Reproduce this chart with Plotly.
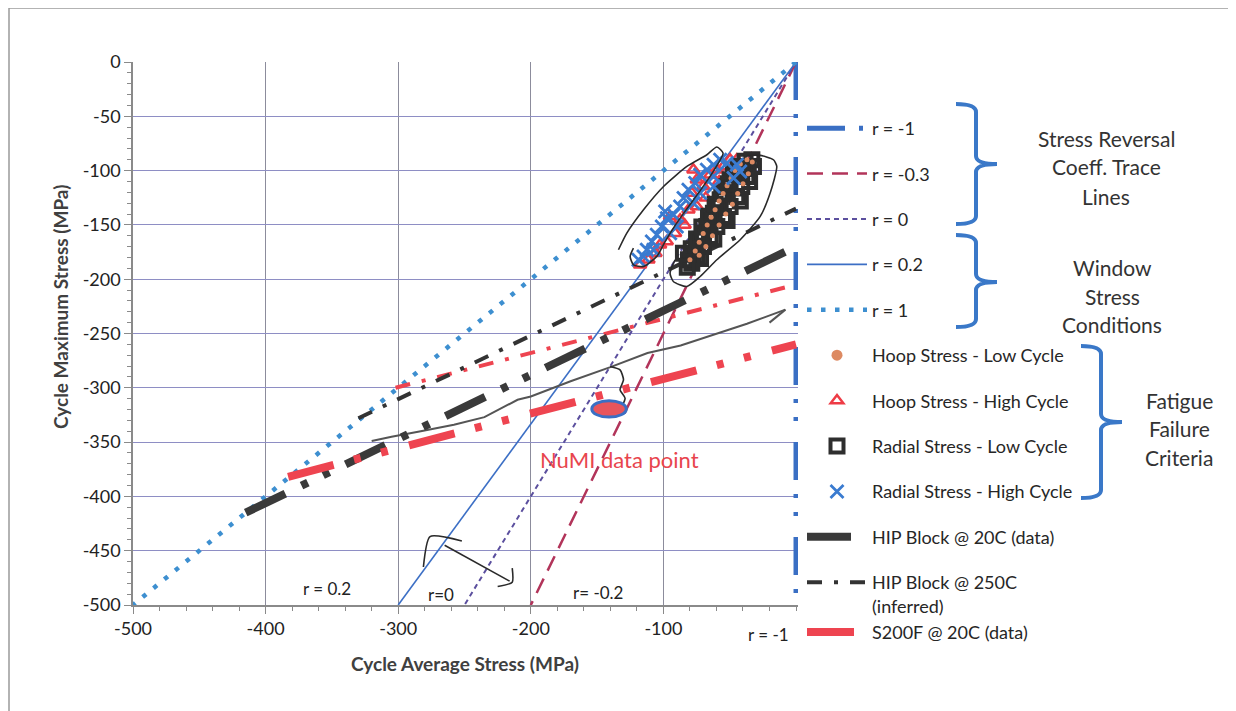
import plotly.graph_objects as go

# ---------------- data ----------------
r_labels = ["r = -1", "r = -0.3", "r = 0", "r = 0.2", "r = 1"]
r_end_avg = [0, -200, -250, -300, -500]      # cycle average stress where each trace line meets -500
r_end_max = [-500, -500, -500, -500, -500]

hoop_low_x = [-80, -76, -73, -70, -67, -64, -61, -58, -55, -52, -49, -46, -42, -37, -33, -36, -40, -44, -48, -53, -58, -63, -68, -73]
hoop_low_y = [-182, -174, -166, -158, -150, -143, -136, -128, -121, -114, -107, -100, -94, -90, -92, -103, -112, -121, -131, -140, -150, -160, -170, -178]

hoop_high_x = [-117.6, -111.3, -102.5, -97.5, -91.2, -95.0, -87.4, -81.1, -74.8, -78.6, -74.8, -69.8, -64.8, -59.7, -54.7, -49.7, -44.7, -77.4, -106, -84, -68, -58]
hoop_high_y = [-186.7, -182.1, -168.3, -165.3, -157.6, -142.2, -145.3, -136.1, -133.0, -120.7, -108.4, -114.6, -103.8, -99.2, -96.2, -90.0, -90.0, -99.2, -176, -150, -125, -110]

radial_low_x = [-81.1, -77.4, -74.8, -72.3, -69.8, -67.3, -64.8, -62.3, -59.7, -57.2, -54.7, -52.2, -49.7, -47.2, -43.4, -38.4, -33.3,
                -32.1, -37.1, -40.9, -44.7, -49.7, -54.7, -59.7, -64.8, -69.8, -74.8, -84.9, -78.6,
                -79, -75, -71, -66, -61, -56, -51, -46, -41, -36, -35, -42, -52, -62, -72, -82]
radial_low_y = [-182.1, -176.0, -169.9, -163.7, -157.6, -151.4, -145.3, -139.2, -133.0, -126.9, -120.7, -114.6, -108.4, -102.3, -96.2, -91.5, -90.0,
                -96.2, -105.4, -114.6, -123.8, -133.0, -142.2, -151.4, -160.6, -169.9, -179.1, -176.0, -185.2,
                -172, -163, -152, -142, -131, -121, -112, -104, -99, -97, -110, -128, -146, -163, -181, -189]

radial_high_x = [-118.8, -115.0, -112.5, -108.7, -105.0, -101.2, -97.4, -98.7, -92.4, -87.4, -84.8, -81.1, -76.0, -72.3, -67.2, -62.2, -57.2, -52.1, -44.6, -42.1, -47.1, -62.2, -77.3, -72.3, -62.2, -89.9, -94.9, -107.5]
radial_high_y = [-182.1, -179.1, -172.9, -165.3, -159.1, -151.4, -143.8, -137.6, -140.7, -133.0, -125.3, -117.7, -111.5, -103.8, -99.2, -94.6, -90.0, -93.1, -94.6, -100.8, -106.9, -114.6, -130.0, -120.7, -105.4, -151.4, -157.6, -172.9]

hip20_x = [-415, 0]
hip20_y = [-415, -170]
hip250_x = [-330, 0]
hip250_y = [-328, -135]
s200f20_x = [-383, 0]
s200f20_y = [-382, -260]
s200f250_x = [-302, 0]
s200f250_y = [-300, -205]

# hand-drawn marks on the scanned chart
gray_x = [-320, -305, -283, -258, -235, -210, -200, -170, -140, -112, -87, -62, -37, -8, None, -8, -20]
gray_y = [-349, -345, -340, -334, -327, -311, -308, -294, -281, -268, -261, -251, -241, -228, None, -228, -240]
loop1_x = [-133.9, -127.6, -115.0, -99.9, -82.3, -67.2, -59.7, -55, -62, -72, -84, -92, -99, -105, -115, -122.6, -125.1, -122.6]
loop1_y = [-172.9, -157.6, -136.1, -114.6, -96.2, -85.4, -78.3, -84, -100, -118, -138, -152, -166, -179, -188.3, -186.7, -179.1, -171.4]
loop2_x = [-37, -27, -17, -14.5, -19.5, -27, -42.1, -59.7, -72.3, -82.4, -92.5, -95, -91.2]
loop2_y = [-86, -86, -90, -96.2, -120.7, -142.2, -163.7, -182.1, -197.5, -206.7, -202.1, -194.4, -182.1]
arrow_x = [-281, -276, -252, None, -265, -216, None, -214, -214, -225]
arrow_y = [-465, -437, -441, None, -445, -478, None, -466, -479, -483]
squiggle_x = [-140.2, -132.7, -130.1, -132.7, -128.9, -131.4]
squiggle_y = [-280.4, -283.5, -292.7, -301.9, -309.6, -317.3]

x_ticks = [-500, -400, -300, -200, -100]
y_ticks = [0, -50, -100, -150, -200, -250, -300, -350, -400, -450, -500]

# ---------------- figure ----------------
FONT = "Lato"
# page pixel positions of the plot area (page has an 8px body margin)
L_PX, R_PX, T_PX, B_PX = 133.0, 798.0, 62.0, 605.0


def pp(px, py):
    return ((px - L_PX) / (R_PX - L_PX), (B_PX - py) / (B_PX - T_PX))


fig = go.Figure()

r_styles = [
    dict(color="#3a6fc4", width=5, dash="38px,14px,4px,14px,4px,21px"),
    dict(color="#b2345a", width=2.5, dash="16px,9px"),
    dict(color="#5b4f9e", width=2, dash="5px,4px"),
    dict(color="#3c6fc5", width=1.6, dash="solid"),
    dict(color="#3d8fd0", width=4.5, dash="4.5px,9.5px"),
]
for i, lab in enumerate(r_labels):
    fig.add_trace(go.Scatter(
        x=[0, r_end_avg[i]], y=[0, r_end_max[i]], mode="lines", name=lab,
        line=r_styles[i], legendgroup=f"g{i}", legendrank=i + 1,
    ))

fig.add_trace(go.Scatter(x=s200f250_x, y=s200f250_y, mode="lines", showlegend=False,
                         line=dict(color="#ee4450", width=4, dash="15px,12px,4px,12px"), hoverinfo="skip"))
fig.add_trace(go.Scatter(x=hip250_x, y=hip250_y, mode="lines", name="HIP Block @ 250C<br>(inferred)",
                         line=dict(color="#333333", width=4, dash="15px,12px,4px,12px"),
                         legendgroup="g10", legendrank=11))
fig.add_trace(go.Scatter(x=gray_x, y=gray_y, mode="lines", showlegend=False,
                         line=dict(color="#555555", width=2), hoverinfo="skip"))
fig.add_trace(go.Scatter(x=hip20_x, y=hip20_y, mode="lines", name="HIP Block @ 20C (data)",
                         line=dict(color="#3a3a3a", width=8, dash="44px,18px,7px,17px,7px,18px"),
                         legendgroup="g9", legendrank=10))
fig.add_trace(go.Scatter(x=s200f20_x, y=s200f20_y, mode="lines", name="S200F @ 20C (data)",
                         line=dict(color="#ee4450", width=8, dash="47px,21px,7px,21px,7px,22px"),
                         legendgroup="g10", legendrank=12))

# legend entry for the hoop low-cycle points (the visible points are drawn later, on top of the squares)
fig.add_trace(go.Scatter(x=[None], y=[None], mode="markers", name="Hoop Stress - Low Cycle",
                         marker=dict(symbol="circle", size=11, color="#dd8a62"),
                         legendgroup="g5", legendrank=6))
fig.add_trace(go.Scatter(x=hoop_high_x, y=hoop_high_y, mode="markers", name="Hoop Stress - High Cycle",
                         marker=dict(symbol="triangle-up-open", size=11, color="#ee3b45", line=dict(width=2.5)),
                         legendgroup="g6", legendrank=7))
fig.add_trace(go.Scatter(x=radial_low_x, y=radial_low_y, mode="markers", name="Radial Stress - Low Cycle",
                         marker=dict(symbol="square-open", size=13, color="#2e2e2e", line=dict(width=4)),
                         legendgroup="g7", legendrank=8))
fig.add_trace(go.Scatter(x=hoop_low_x, y=hoop_low_y, mode="markers", showlegend=False,
                         marker=dict(symbol="circle", size=5, color="#dd8a62"),
                         legendgroup="g5", hoverinfo="x+y"))
fig.add_trace(go.Scatter(x=radial_high_x, y=radial_high_y, mode="markers", name="Radial Stress - High Cycle",
                         marker=dict(symbol="x-thin", size=13, color="#3a7bd0",
                                     line=dict(width=2.8, color="#3a7bd0")),
                         legendgroup="g8", legendrank=9))

for hx, hy in [(loop1_x, loop1_y), (loop2_x, loop2_y), (arrow_x, arrow_y), (squiggle_x, squiggle_y)]:
    fig.add_trace(go.Scatter(x=hx, y=hy, mode="lines", showlegend=False, hoverinfo="skip",
                             line=dict(color="#2a2a2a", width=1.6, shape="spline", smoothing=0.6)))

shapes = []
# NuMI data point ellipse
shapes.append(dict(type="circle", xref="x", yref="y", x0=-154, x1=-128, y0=-327, y1=-312,
                   fillcolor="#e8555c", line=dict(color="#3a6fc4", width=3)))


def brace(x0, xs, xn, ytop, ymid, ybot, r=8):
    pts = [(x0, ytop), (xs, ytop), (xs, ytop + r), (xs, ymid - r), (xs, ymid), (xn, ymid),
           (xs, ymid), (xs, ymid + r), (xs, ybot - r), (xs, ybot), (x0, ybot)]
    P = [pp(a, b) for a, b in pts]
    s = f"M{P[0][0]},{P[0][1]} Q{P[1][0]},{P[1][1]} {P[2][0]},{P[2][1]} L{P[3][0]},{P[3][1]} " \
        f"Q{P[4][0]},{P[4][1]} {P[5][0]},{P[5][1]} Q{P[6][0]},{P[6][1]} {P[7][0]},{P[7][1]} " \
        f"L{P[8][0]},{P[8][1]} Q{P[9][0]},{P[9][1]} {P[10][0]},{P[10][1]}"
    return dict(type="path", xref="paper", yref="paper", path=s, line=dict(color="#3a78c8", width=4))


shapes.append(brace(956, 976, 997, 104, 164, 224))
shapes.append(brace(956, 976, 997, 235, 282, 327))
shapes.append(brace(1081, 1101, 1122, 346, 422, 498))

# page frame of the scan
fx0, fy0 = pp(9, 8)
fx1, fy1 = pp(1300, 760)
shapes.append(dict(type="rect", xref="paper", yref="paper", x0=fx0, y0=fy1, x1=fx1, y1=fy0,
                   line=dict(color="#9a9a9a", width=1.5), layer="below"))

annotations = []


def txt(text, px, py, size=18, color="#333333", **kw):
    x, y = pp(px, py)
    annotations.append(dict(text=text, x=x, y=y, xref="paper", yref="paper", showarrow=False,
                            xanchor="center", yanchor="middle",
                            font=dict(family=FONT, size=size, color=color), **kw))


for t, py in [("Stress Reversal", 138), ("Coeff. Trace", 167), ("Lines", 196)]:
    txt(t, 1106, py, size=21)
for t, py in [("Window", 267), ("Stress", 296), ("Conditions", 324)]:
    txt(t, 1112, py, size=21)
for t, py in [("Fatigue", 400), ("Failure", 428), ("Criteria", 457)]:
    txt(t, 1179, py, size=21)
txt("r = 0.2", 327, 588, size=17, color="#222222")
txt("r=0", 441, 594, size=17, color="#222222")
txt("r= -0.2", 598, 592, size=17, color="#222222")
txt("r = -1", 768, 634, size=17, color="#222222")
txt("NuMI data point", 619, 459, size=22, color="#e8454d")
txt("<b>Cycle Average Stress (MPa)</b>", 465, 663, size=19, color="#404040")
txt("<b>Cycle Maximum Stress (MPa)</b>", 60, 307, size=19, color="#404040", textangle=-90)

lx, ly = pp(802, 110)
fig.update_layout(
    width=1228, height=703,
    margin=dict(l=125, r=438, t=54, b=106),
    paper_bgcolor="white", plot_bgcolor="white",
    font=dict(family=FONT, color="#222222"),
    showlegend=True,
    legend=dict(x=lx, y=ly, xanchor="left", yanchor="top", tracegroupgap=19,
                traceorder="grouped", valign="top", itemwidth=60,
                font=dict(family=FONT, size=18, color="#262626"), bgcolor="rgba(0,0,0,0)"),
    shapes=shapes, annotations=annotations,
    xaxis=dict(range=[-500, 1.5], tickvals=x_ticks, ticktext=[str(v) for v in x_ticks],
               showgrid=True, gridcolor="#8c8c9c", gridwidth=1.2,
               zeroline=False, showline=True, linecolor="#8a8a8a", linewidth=1.5,
               ticks="outside", ticklen=7, tickcolor="#8a8a8a",
               minor=dict(dtick=20, ticks="outside", ticklen=4, tickcolor="#8a8a8a", showgrid=False),
               tickfont=dict(family=FONT, size=18, color="#222222")),
    yaxis=dict(range=[-500, 0], tickvals=y_ticks, ticktext=[str(v) for v in y_ticks],
               showgrid=True, gridcolor="#8e8ec4", gridwidth=1.2,
               zeroline=False, showline=True, linecolor="#8a8a8a", linewidth=1.5,
               ticks="outside", ticklen=7, tickcolor="#8a8a8a",
               minor=dict(dtick=10, ticks="outside", ticklen=4, tickcolor="#8a8a8a", showgrid=False),
               tickfont=dict(family=FONT, size=18, color="#222222")),
)

fig.write_html("out.html")
